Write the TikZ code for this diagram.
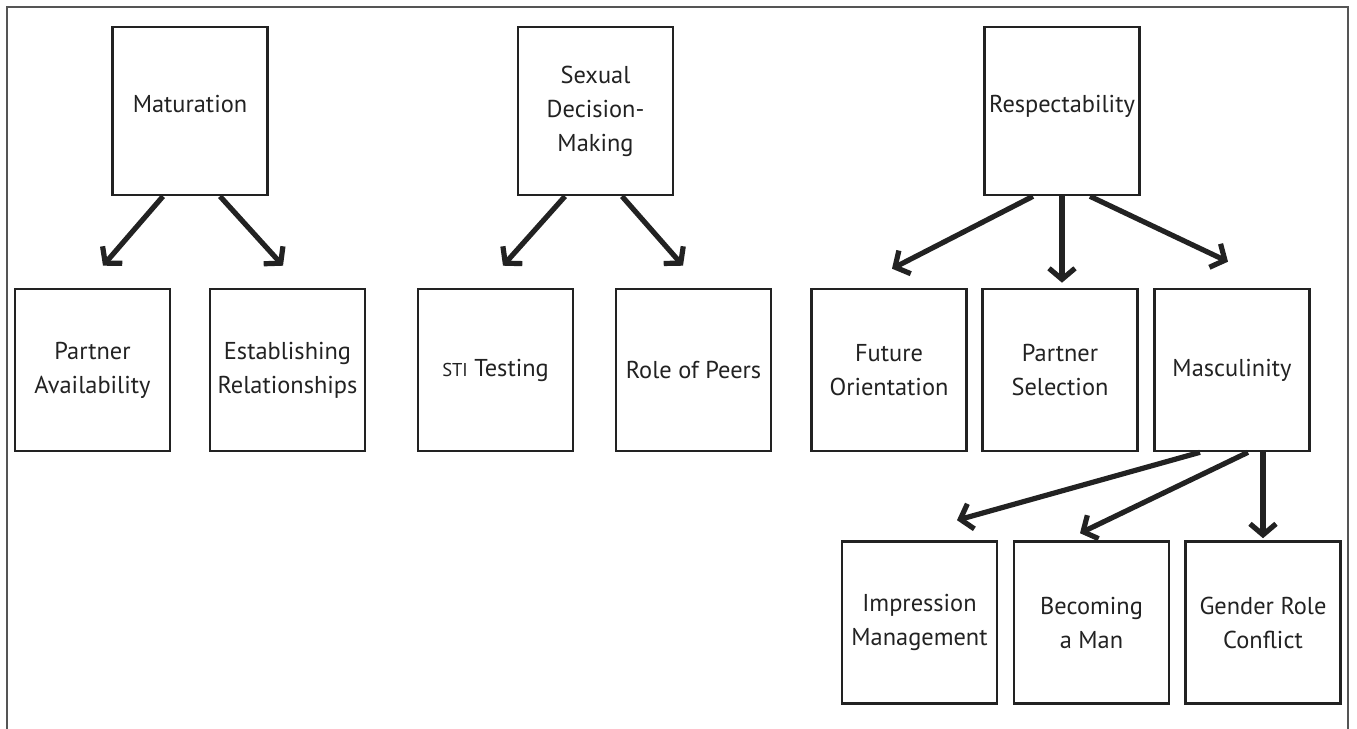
\documentclass[tikz,border=0pt]{standalone}
\usepackage{fontspec}
\setmainfont{PT Sans}
\usetikzlibrary{arrows.meta}
\definecolor{ink}{HTML}{222222}
\definecolor{frame}{HTML}{555555}
\tikzset{
  box/.style={draw=ink, line width=1.3pt, minimum width=77.5pt, align=center, inner sep=0pt,
    font=\fontsize{12.2}{17}\selectfont, text=ink},
  toprow/.style={box, minimum height=84pt},
  lowrow/.style={box, minimum height=81pt},
  raised/.style={text depth=7pt},
  link/.style={draw=ink, line width=2.6pt, -{Straight Barb[length=5.5pt,width=13pt]}},
}
\newcommand{\smcaps}[1]{{\fontsize{9.3}{9.3}\selectfont #1}}
\begin{document}
\begin{tikzpicture}[x=0.5pt,y=-0.5pt]
\useasboundingbox (0,0) rectangle (1357,729);
% frame
\coordinate (fbl) at (6.5,729);
\coordinate (ftl) at (6.5,6.5);
\coordinate (ftr) at (1348,6.5);
\coordinate (fbr) at (1348,729);
\draw[frame, line width=1pt] (fbl) -- (ftl) -- (ftr) -- (fbr);
% top row
\node[toprow, raised] (mat) at (190,111) {Maturation};
\node[toprow] (sdm) at (595.5,111) {Sexual\\Decision-\\Making};
\node[toprow, raised] (res) at (1062,111) {Respectability};
% second row
\node[lowrow] (pa) at (92.5,370) {Partner\\Availability};
\node[lowrow] (er) at (287.5,370) {Establishing\\Relationships};
\node[lowrow] (sti) at (495.5,370) {\smcaps{STI} Testing};
\node[lowrow] (rp) at (693.5,370) {Role of Peers};
\node[lowrow] (fo) at (889,370) {Future\\Orientation};
\node[lowrow] (ps) at (1060,370) {Partner\\Selection};
\node[lowrow] (ma) at (1232,370) {Masculinity};
% third row
\node[lowrow] (im) at (919.5,622.5) {Impression\\Management};
\node[lowrow] (bm) at (1091.5,622.5) {Becoming\\a Man};
\node[lowrow] (gr) at (1263,622.5) {Gender Role\\Conflict};
% connectors
\draw[link] ([xshift=-13.5pt]mat.south) -- ([xshift=5.25pt,yshift=11pt]pa.north);
\draw[link] ([xshift=15pt]mat.south) -- ([xshift=-2.25pt,yshift=11pt]er.north);
\draw[link] ([xshift=-15.25pt]sdm.south) -- ([xshift=3.75pt,yshift=11pt]sti.north);
\draw[link] ([xshift=13.25pt]sdm.south) -- ([xshift=-5.25pt,yshift=11pt]rp.north);
\draw[link] ([xshift=-14.5pt]res.south) -- ([xshift=1.5pt,yshift=9.5pt]fo.north);
\draw[link] (res.south) -- ([xshift=1pt,yshift=2.5pt]ps.north);
\draw[link] ([xshift=14pt]res.south) -- ([xshift=-2pt,yshift=13pt]ma.north);
\draw[link] ([xshift=-16pt]ma.south) -- ([xshift=18.75pt,yshift=10pt]im.north);
\draw[link] ([xshift=8pt]ma.south) -- ([xshift=-5.75pt,yshift=3.5pt]bm.north);
\draw[link] ([xshift=15.5pt]ma.south) -- ([yshift=1pt]gr.north);
\end{tikzpicture}
\end{document}
